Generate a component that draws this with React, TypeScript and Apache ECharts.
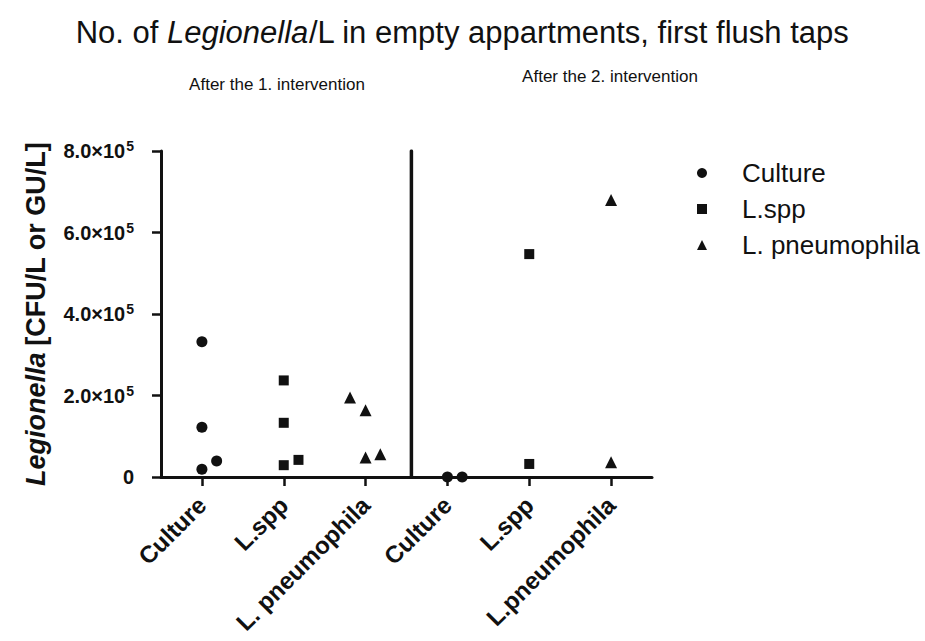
import React, { useEffect, useRef } from "react";
import * as echarts from "echarts";

// ---- data ----
const categories = ["Culture", "L.spp", "L. pneumophila", "Culture", "L.spp", "L.pneumophila"];
const seriesNames = ["Culture", "L.spp", "L. pneumophila"];

// x positions = category index + small horizontal jitter (as plotted)
const cultureX = [0, 0, 0, 0.18, 3, 3.18];
const cultureY = [332000, 122000, 19000, 39000, 0, 0];

const lsppX = [1, 1, 1, 1.18, 4, 4];
const lsppY = [237000, 133000, 29000, 42000, 547000, 32000];

const pneumoX = [1.81, 2, 2, 2.18, 5, 5];
const pneumoY = [195000, 164000, 48000, 56000, 680000, 36000];

const dividerX = 2.56;
const yTicks = [0, 200000, 400000, 600000, 800000];

const FONT = "'Liberation Sans', Arial, Helvetica, sans-serif";
const INK = "#111111";

const zip = (xs: number[], ys: number[]) => xs.map((x, i) => [x, ys[i]]);

export default function App() {
  const ref = useRef<HTMLDivElement>(null);

  useEffect(() => {
    document.body.style.margin = "0";
    if (!ref.current) return;
    const chart = echarts.init(ref.current, undefined, { renderer: "svg" });
    const yMax = yTicks[yTicks.length - 1];
    const yStep = yTicks[1] - yTicks[0];

    chart.setOption({
      animation: false,
      backgroundColor: "#ffffff",
      title: {
        text: "{n|No. of }{i|Legionella}{n|/L in empty appartments, first flush taps}",
        left: "center",
        top: 12,
        textStyle: {
          fontWeight: "normal",
          rich: {
            n: { fontSize: 31, fontFamily: FONT, color: INK, fontWeight: "normal" },
            i: { fontSize: 31, fontFamily: FONT, color: INK, fontStyle: "italic", fontWeight: "normal" },
          },
        },
      },
      graphic: [
        {
          type: "text",
          x: 277,
          y: 84,
          style: {
            text: "After the 1. intervention",
            fontSize: 17,
            fontFamily: FONT,
            fill: INK,
            textAlign: "center",
            textVerticalAlign: "middle",
          },
        },
        {
          type: "text",
          x: 610,
          y: 76,
          style: {
            text: "After the 2. intervention",
            fontSize: 17,
            fontFamily: FONT,
            fill: INK,
            textAlign: "center",
            textVerticalAlign: "middle",
          },
        },
      ],
      legend: {
        orient: "vertical",
        left: 692,
        top: 155,
        itemWidth: 10,
        itemHeight: 10,
        itemGap: 10,
        textStyle: {
          fontSize: 26,
          fontFamily: FONT,
          color: INK,
          padding: [0, 0, 0, 30],
        },
        data: [
          { name: seriesNames[0], icon: "circle" },
          { name: seriesNames[1], icon: "rect" },
          { name: seriesNames[2], icon: "triangle" },
        ],
      },
      grid: { left: 161, right: 273, top: 151, bottom: 164, containLabel: false },
      xAxis: [
        {
          type: "category",
          data: categories,
          boundaryGap: true,
          axisLine: { show: true, onZero: false, lineStyle: { color: INK, width: 3 } },
          axisTick: { show: true, alignWithLabel: true, length: 9, lineStyle: { color: INK, width: 2.5 } },
          axisLabel: {
            interval: 0,
            rotate: 45,
            margin: 24,
            fontSize: 24,
            fontWeight: "bold",
            fontFamily: FONT,
            color: INK,
          },
          splitLine: { show: false },
        },
        {
          type: "value",
          min: -0.5,
          max: 5.5,
          show: false,
          position: "bottom",
        },
      ],
      yAxis: {
        type: "value",
        min: 0,
        max: yMax,
        interval: yStep,
        name: "{i|Legionella}  {b|[CFU/L or GU/L]}",
        nameLocation: "middle",
        nameGap: 112,
        nameTextStyle: {
          rich: {
            i: { fontSize: 27, fontWeight: "bold", fontStyle: "italic", fontFamily: FONT, color: INK },
            b: { fontSize: 27, fontWeight: "bold", fontFamily: FONT, color: INK },
          },
        },
        axisLine: { show: true, onZero: false, lineStyle: { color: INK, width: 3 } },
        axisTick: { show: true, length: 9, lineStyle: { color: INK, width: 2.5 } },
        splitLine: { show: false },
        axisLabel: {
          margin: 27,
          fontSize: 20,
          fontWeight: "bold",
          fontFamily: FONT,
          color: INK,
          formatter: (v: number) => (v === 0 ? "0" : `${(v / 100000).toFixed(1)}×10{sup|5}`),
          rich: {
            sup: { fontSize: 14, fontWeight: "bold", fontFamily: FONT, color: INK, verticalAlign: "top", padding: [0, 0, 10, 1] },
          },
        },
      },
      series: [
        {
          name: "divider",
          type: "line",
          xAxisIndex: 1,
          data: [[dividerX, 0], [dividerX, yMax]],
          symbol: "none",
          silent: true,
          lineStyle: { color: INK, width: 3.5, cap: "round" },
          z: 1,
        },
        {
          name: seriesNames[0],
          type: "scatter",
          xAxisIndex: 1,
          symbol: "circle",
          symbolSize: 11,
          itemStyle: { color: INK, opacity: 1 },
          data: zip(cultureX, cultureY),
          z: 5,
        },
        {
          name: seriesNames[1],
          type: "scatter",
          xAxisIndex: 1,
          symbol: "rect",
          symbolSize: 10,
          itemStyle: { color: INK, opacity: 1 },
          data: zip(lsppX, lsppY),
          z: 5,
        },
        {
          name: seriesNames[2],
          type: "scatter",
          xAxisIndex: 1,
          symbol: "triangle",
          symbolSize: 12,
          itemStyle: { color: INK, opacity: 1 },
          data: zip(pneumoX, pneumoY),
          z: 5,
        },
      ],
    });
    return () => chart.dispose();
  }, []);

  return <div ref={ref} style={{ width: 925, height: 641 }} />;
}
